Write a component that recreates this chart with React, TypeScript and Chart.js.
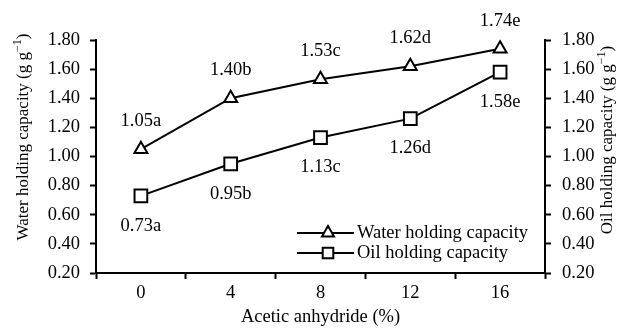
import React, { useEffect, useRef } from 'react';
import { Chart, registerables } from 'chart.js';

Chart.register(...registerables);

const categories = ['0', '4', '8', '12', '16'];
const waterValues = [1.05, 1.4, 1.53, 1.62, 1.74];
const oilValues = [0.73, 0.95, 1.13, 1.26, 1.58];
const waterLabels = ['1.05a', '1.40b', '1.53c', '1.62d', '1.74e'];
const oilLabels = ['0.73a', '0.95b', '1.13c', '1.26d', '1.58e'];
const seriesNames = ['Water holding capacity', 'Oil holding capacity'];
const xTitle = 'Acetic anhydride (%)';
const yLeftTitle = 'Water holding capacity (g g';
const yRightTitle = 'Oil holding capacity (g g';
const unitSup = '\u22121';
const unitTail = ')';
const yMin = 0.2;
const yMax = 1.8;
const yStep = 0.2;

const FONT = '"Liberation Serif", "Times New Roman", serif';
const FS = 18.5;
const FS_V = 17;

function drawTriangle(ctx: CanvasRenderingContext2D, x: number, y: number, r: number) {
  ctx.beginPath();
  ctx.moveTo(x, y - r);
  ctx.lineTo(x + 0.866 * r, y + 0.5 * r);
  ctx.lineTo(x - 0.866 * r, y + 0.5 * r);
  ctx.closePath();
  ctx.fillStyle = '#fff';
  ctx.fill();
  ctx.stroke();
}

function drawSquare(ctx: CanvasRenderingContext2D, x: number, y: number, r: number) {
  const s = r * Math.SQRT1_2;
  ctx.beginPath();
  ctx.rect(x - s, y - s, 2 * s, 2 * s);
  ctx.fillStyle = '#fff';
  ctx.fill();
  ctx.stroke();
}

function drawVerticalTitle(ctx: CanvasRenderingContext2D, baseX: number, cy: number, main: string) {
  ctx.save();
  ctx.translate(baseX, cy);
  ctx.rotate(-Math.PI / 2);
  ctx.fillStyle = '#000';
  ctx.textBaseline = 'alphabetic';
  ctx.textAlign = 'left';
  const mainFont = `${FS_V}px ${FONT}`;
  const supFont = `${Math.round(FS_V * 0.68)}px ${FONT}`;
  ctx.font = mainFont;
  const w1 = ctx.measureText(main).width;
  const w3 = ctx.measureText(unitTail).width;
  ctx.font = supFont;
  const w2 = ctx.measureText(unitSup).width;
  const total = w1 + w2 + w3;
  let x = -total / 2;
  ctx.font = mainFont;
  ctx.fillText(main, x, 0);
  x += w1;
  ctx.font = supFont;
  ctx.fillText(unitSup, x, -7);
  x += w2;
  ctx.font = mainFont;
  ctx.fillText(unitTail, x, 0);
  ctx.restore();
}

const overlayPlugin = {
  id: 'overlay',
  afterDraw(chart: any) {
    const ctx: CanvasRenderingContext2D = chart.ctx;
    const area = chart.chartArea;
    ctx.save();
    ctx.fillStyle = '#000';
    ctx.font = `${FS}px ${FONT}`;
    ctx.textAlign = 'center';
    ctx.textBaseline = 'middle';
    const m0 = chart.getDatasetMeta(0);
    const m1 = chart.getDatasetMeta(1);
    m0.data.forEach((p: any, i: number) => {
      ctx.fillText(waterLabels[i], p.x, p.y - 28);
    });
    m1.data.forEach((p: any, i: number) => {
      ctx.fillText(oilLabels[i], p.x, p.y + 30);
    });

    // x title
    ctx.fillText(xTitle, (area.left + area.right) / 2, 317);

    // legend
    ctx.strokeStyle = '#000';
    ctx.lineWidth = 2;
    const rows = [233, 253];
    rows.forEach((ry, i) => {
      ctx.beginPath();
      ctx.moveTo(297, ry);
      ctx.lineTo(354, ry);
      ctx.stroke();
      if (i === 0) drawTriangle(ctx, 328, ry, 7);
      else drawSquare(ctx, 328, ry, 7.5);
      ctx.fillStyle = '#000';
      ctx.textAlign = 'left';
      ctx.textBaseline = 'middle';
      ctx.font = `${FS}px ${FONT}`;
      ctx.fillText(seriesNames[i], 357, ry);
    });

    drawVerticalTitle(ctx, 28, 137, yLeftTitle);
    drawVerticalTitle(ctx, 612, 140, yRightTitle);
    ctx.restore();
  },
};

export default function App() {
  const ref = useRef<HTMLCanvasElement>(null);
  useEffect(() => {
    if (!ref.current) return;
    const tickFont = { family: FONT, size: FS };
    const yAxis = (position: 'left' | 'right', padding: number, width: number) => ({
      type: 'linear',
      position,
      min: yMin,
      max: yMax,
      ticks: {
        stepSize: yStep,
        color: '#000',
        font: tickFont,
        padding,
        callback: (v: any) => Number(v).toFixed(2),
      },
      grid: {
        display: true,
        drawOnChartArea: false,
        drawTicks: true,
        tickLength: 6,
        tickColor: '#000',
        tickWidth: 2,
      },
      border: { display: true, color: '#000', width: 2 },
      afterFit: (s: any) => {
        s.width = width;
      },
    });
    const chart = new Chart(ref.current, {
      type: 'line',
      data: {
        labels: categories,
        datasets: [
          {
            label: seriesNames[0],
            data: waterValues,
            yAxisID: 'y',
            borderColor: '#000',
            borderWidth: 2,
            pointStyle: 'triangle',
            pointRadius: 7.5,
            pointBorderWidth: 2,
            pointBackgroundColor: '#fff',
            pointBorderColor: '#000',
            tension: 0,
            clip: false,
          },
          {
            label: seriesNames[1],
            data: oilValues,
            yAxisID: 'y1',
            borderColor: '#000',
            borderWidth: 2,
            pointStyle: 'rect',
            pointRadius: 9,
            pointBorderWidth: 2,
            pointBackgroundColor: '#fff',
            pointBorderColor: '#000',
            tension: 0,
            clip: false,
          },
        ],
      } as any,
      options: {
        animation: false,
        responsive: false,
        devicePixelRatio: 1,
        layout: { padding: { top: 40, left: 0, right: 0, bottom: 0 } },
        plugins: {
          legend: { display: false },
          title: { display: false },
          tooltip: { enabled: false },
        },
        scales: {
          x: {
            type: 'category',
            offset: true,
            grid: {
              display: true,
              offset: true,
              drawOnChartArea: false,
              drawTicks: true,
              tickLength: 6,
              tickColor: '#000',
              tickWidth: 2,
            },
            border: { display: true, color: '#000', width: 2 },
            ticks: { color: '#000', font: tickFont, padding: 3, maxRotation: 0 },
            afterFit: (s: any) => {
              s.height = 61;
            },
          },
          y: yAxis('left', 10, 96),
          y1: yAxis('right', 11, 78),
        } as any,
      },
      plugins: [overlayPlugin],
    });
    return () => chart.destroy();
  }, []);
  return (
    <div style={{ position: 'absolute', left: 0, top: 0, width: 623, height: 334, background: '#fff' }}>
      <canvas ref={ref} width={623} height={334} style={{ width: 623, height: 334 }} />
    </div>
  );
}
